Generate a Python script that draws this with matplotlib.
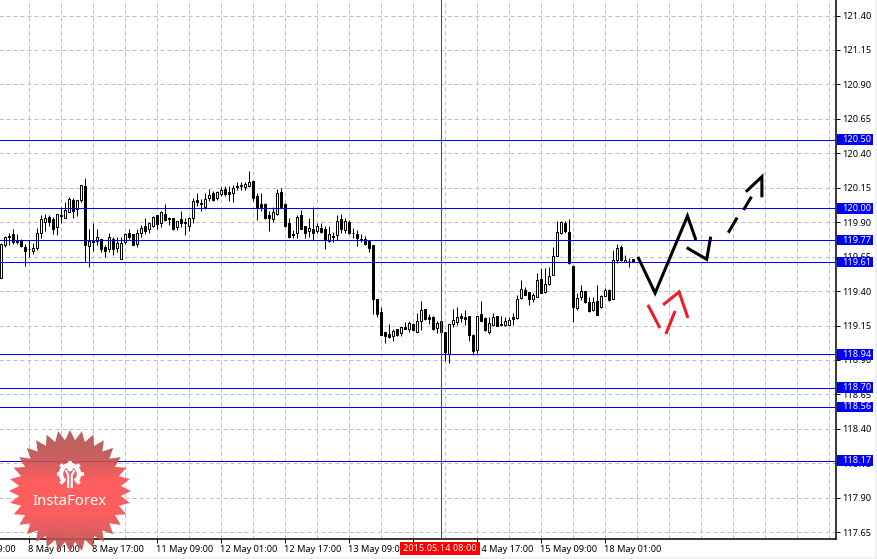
import numpy as np
import matplotlib
matplotlib.use("Agg")
import matplotlib.pyplot as plt
from matplotlib.patches import Rectangle, Polygon, Circle, Arc
from matplotlib.transforms import blended_transform_factory, IdentityTransform, ScaledTranslation

# (open, high, low, close) of each hourly candle
candles = [
(119.497,119.751,119.492,119.739),(119.737,119.800,119.722,119.790),(119.797,119.819,119.734,119.790),(119.812,119.848,119.742,119.759),
(119.761,119.812,119.739,119.756),(119.766,119.778,119.717,119.727),(119.720,119.739,119.582,119.691),(119.708,119.771,119.650,119.703),
(119.693,119.751,119.669,119.710),(119.710,119.855,119.698,119.819),(119.824,119.952,119.788,119.921),(119.904,119.957,119.836,119.928),
(119.935,119.952,119.872,119.901),(119.921,119.940,119.814,119.853),(119.867,119.957,119.807,119.957),(119.952,120.013,119.896,119.947),
(119.933,120.044,119.930,119.988),(119.976,120.085,119.974,120.066),(120.061,120.078,119.930,119.984),(119.993,120.061,119.947,120.061),
(120.061,120.167,120.049,120.167),(120.163,120.218,119.608,119.734),(119.727,119.848,119.577,119.761),(119.766,119.894,119.691,119.759),
(119.766,119.848,119.734,119.790),(119.775,119.775,119.686,119.705),(119.720,119.734,119.650,119.693),(119.708,119.819,119.686,119.790),
(119.775,119.790,119.662,119.708),(119.715,119.790,119.681,119.749),(119.635,119.790,119.633,119.749),(119.756,119.819,119.739,119.814),
(119.819,119.850,119.775,119.792),(119.814,119.814,119.732,119.737),(119.744,119.848,119.722,119.821),(119.824,119.880,119.790,119.855),
(119.870,119.928,119.814,119.834),(119.848,119.904,119.819,119.892),(119.872,119.945,119.863,119.935),(119.952,119.952,119.853,119.887),
(119.896,119.981,119.863,119.974),(119.959,120.030,119.911,119.916),(119.930,119.940,119.877,119.925),(119.928,119.928,119.843,119.853),
(119.863,119.911,119.843,119.906),(119.921,119.981,119.867,119.896),(119.901,119.928,119.807,119.896),(119.872,119.940,119.836,119.930),
(119.928,120.078,119.896,120.054),(120.059,120.114,120.020,120.049),(120.037,120.068,119.984,120.030),(120.008,120.109,119.998,120.066),
(120.078,120.138,120.056,120.095),(120.112,120.129,120.056,120.061),(120.078,120.129,120.061,120.117),(120.107,120.158,120.092,120.134),
(120.141,120.163,120.092,120.105),(120.119,120.165,120.054,120.107),(120.114,120.170,120.049,120.146),(120.163,120.192,120.134,120.158),
(120.170,120.189,120.134,120.165),(120.155,120.189,120.134,120.175),(120.163,120.272,120.158,120.192),(120.199,120.199,120.054,120.078),
(120.090,120.112,119.916,120.013),(120.032,120.112,119.984,120.013),(120.032,120.037,119.923,119.928),(119.952,119.979,119.836,119.930),
(119.923,120.013,119.901,119.971),(119.957,120.141,119.952,120.109),(120.117,120.151,120.008,120.013),(120.032,120.042,119.865,119.872),
(119.894,119.928,119.785,119.790),(119.814,119.843,119.788,119.809),(119.819,119.952,119.788,119.938),(119.952,119.988,119.848,119.853),
(119.870,119.870,119.785,119.821),(119.836,119.928,119.790,119.855),(119.848,120.013,119.771,119.824),(119.838,119.894,119.824,119.870),
(119.855,119.892,119.819,119.831),(119.848,119.872,119.705,119.768),(119.763,119.872,119.756,119.812),(119.797,119.826,119.759,119.792),
(119.807,119.952,119.771,119.909),(119.921,119.957,119.824,119.848),(119.843,119.928,119.824,119.909),(119.901,119.916,119.814,119.821),
(119.824,119.855,119.783,119.819),(119.814,119.843,119.727,119.785),(119.780,119.812,119.759,119.773),(119.775,119.800,119.737,119.742),
(119.763,119.771,119.683,119.710),(119.735,119.735,119.234,119.343),(119.343,119.343,119.210,119.234),(119.249,119.283,119.079,119.084),
(119.103,119.103,119.026,119.074),(119.087,119.159,119.062,119.067),(119.077,119.128,119.041,119.108),(119.123,119.125,119.077,119.082),
(119.099,119.142,119.074,119.137),(119.137,119.178,119.128,119.128),(119.125,119.183,119.103,119.166),(119.162,119.171,119.111,119.118),
(119.106,119.239,119.103,119.183),(119.186,119.329,119.118,119.261),(119.268,119.268,119.193,119.200),(119.210,119.234,119.162,119.200),
(119.210,119.220,119.118,119.123),(119.135,119.186,119.094,119.169),(119.183,119.287,119.106,119.106),(119.103,119.103,118.895,118.958),
(118.944,119.159,118.881,119.159),(119.162,119.268,119.142,119.188),(119.178,119.283,119.154,119.210),(119.217,119.239,119.178,119.208),
(119.210,119.263,119.154,119.195),(119.217,119.217,119.038,119.079),(119.082,119.089,118.934,118.966),(118.973,119.217,118.953,119.217),
(119.234,119.329,119.181,119.186),(119.203,119.215,119.111,119.118),(119.106,119.215,119.089,119.166),(119.154,119.239,119.147,119.210),
(119.217,119.217,119.147,119.149),(119.162,119.220,119.149,119.154),(119.152,119.210,119.147,119.181),(119.157,119.210,119.152,119.188),
(119.210,119.244,119.154,119.200),(119.203,119.370,119.195,119.341),(119.348,119.481,119.346,119.418),(119.406,119.433,119.370,119.375),
(119.391,119.396,119.297,119.341),(119.341,119.384,119.319,119.372),(119.360,119.529,119.355,119.479),(119.488,119.565,119.384,119.389),
(119.394,119.565,119.384,119.452),(119.452,119.573,119.447,119.510),(119.520,119.718,119.517,119.655),(119.657,119.909,119.655,119.827),
(119.820,119.909,119.815,119.902),(119.897,119.909,119.820,119.839),(119.829,119.921,119.597,119.602),(119.582,119.582,119.176,119.285),
(119.280,119.384,119.263,119.350),(119.360,119.442,119.336,119.401),(119.399,119.399,119.316,119.321),(119.319,119.355,119.251,119.256),
(119.263,119.355,119.258,119.319),(119.328,119.442,119.224,119.229),(119.282,119.372,119.275,119.365),(119.367,119.425,119.365,119.408),
(119.408,119.413,119.328,119.336),(119.345,119.699,119.340,119.628),(119.626,119.740,119.607,119.711),(119.720,119.735,119.621,119.626),
(119.614,119.662,119.609,119.628),(119.621,119.638,119.578,119.616),(119.631,119.631,119.611,119.611),
]

levels = [120.50, 120.00, 119.77, 119.61, 118.94, 118.70, 118.56, 118.17]
y_ticks = [121.40, 121.15, 120.90, 120.65, 120.40, 120.15, 119.90, 119.65, 119.40,
           119.15, 118.90, 118.65, 118.40, 118.15, 117.90, 117.65]
x_tick_pos = [-9, 7, 23, 39, 55, 71, 87, 103, 119, 135, 151]
x_tick_labels = ["7 May 09:00", "8 May 01:00", "8 May 17:00", "11 May 09:00", "12 May 01:00",
                 "12 May 17:00", "13 May 09:00", "14 May 01:00", "14 May 17:00", "15 May 09:00", "18 May 01:00"]
x_grid_extra = [-1, 15, 31, 47, 63, 79, 95, 111, 127, 143, 159, 167, 175, 183, 191, 199, 207]
crosshair_pos = 110
crosshair_label = "2015.05.14 08:00"

# hand-drawn forecast strokes (candle index, price)
black_solid = [
    ([159.3, 163.6, 171.7, 173.8], [119.648, 119.386, 119.945, 119.771]),
    ([171.5, 176.5, 177.5], [119.715, 119.631, 119.795]),
    ([181.9, 184.1], [119.824, 119.933]),
    ([185.7, 187.7], [119.989, 120.085]),
    ([186.3, 190.3, 190.3], [120.121, 120.230, 120.081]),
]
red_strokes = [
    ([161.8, 164.8], [119.300, 119.132]),
    ([166.3, 168.6], [119.089, 119.256]),
    ([165.6, 169.6, 171.8], [119.300, 119.394, 119.205]),
]

W, H = 877, 559
PX = 0.72
font = "Noto Sans"
fs = 6.6
plt.rcParams["font.family"] = [font, "DejaVu Sans"]

fig = plt.figure(figsize=(W / 100, H / 100), dpi=100, facecolor="white")
ax = fig.add_axes([-40 / W, (H - 539) / H, 875.5 / W, 539 / H])
ax.set_xlim(-10.17, 208.7)
ax.set_ylim(117.601, 121.5125)
ax.set_axisbelow(True)

for s in ("left", "top"):
    ax.spines[s].set_visible(False)
for s in ("right", "bottom"):
    ax.spines[s].set_linewidth(1.1)

ax.yaxis.tick_right()
ax.set_yticks(y_ticks)
ax.set_yticklabels([f"{v:.2f}" for v in y_ticks], fontsize=fs)
ax.set_xticks(x_tick_pos)
ax.set_xticklabels(x_tick_labels, fontsize=fs, ha="left")
ax.set_xticks(x_grid_extra, minor=True)
ax.tick_params(axis="y", length=3, width=PX, pad=1.5)
ax.tick_params(axis="x", which="major", length=3, width=PX, pad=1.2)
ax.tick_params(axis="x", which="minor", length=0)
shift = ScaledTranslation(-1.0 / 100, 0, fig.dpi_scale_trans)
for lab in ax.get_xticklabels():
    lab.set_transform(lab.get_transform() + shift)
ax.grid(True, which="both", color="#c0c0c0", linewidth=PX, linestyle=(0, (4, 3)))

idx = np.arange(len(candles))
o, h, l, c = map(np.array, zip(*candles))
ax.vlines(idx, l, h, color="black", linewidth=PX, zorder=3)
up = c >= o
bottom = np.minimum(o, c)
height = np.maximum(np.abs(c - o), 0.004)
ax.bar(idx, height, bottom=bottom, width=0.5,
       color=["white" if u else "black" for u in up],
       edgecolor="black", linewidth=PX, zorder=3.2)

for v in levels:
    ax.axhline(v, color="#0000ff", linewidth=PX, zorder=3.5)

ax.axvline(crosshair_pos, color="#ff0000", linewidth=PX, zorder=3.6)

for xs, ys in black_solid:
    ax.plot(xs, ys, color="black", lw=2.2, solid_capstyle="butt", solid_joinstyle="miter", zorder=4)
for xs, ys in red_strokes:
    ax.plot(xs, ys, color="#ee1c25", lw=2.2, solid_capstyle="butt", solid_joinstyle="miter", zorder=4)

# price tags on the right axis
tr = blended_transform_factory(IdentityTransform(), ax.transData)
for v in levels:
    ax.add_patch(Rectangle((836.5, v - 5.3 / 137.8), 36.5, 10.6 / 137.8, transform=tr,
                           facecolor="#0000ff", edgecolor="none", clip_on=False, zorder=5))
    ax.text(842, v, f"{v:.2f}", transform=tr, color="white", fontsize=fs, va="center",
            ha="left", clip_on=False, zorder=6)

# overlay in picture pixels: time tag, logo, window edge
ov = fig.add_axes([0, 0, 1, 1], facecolor="none")
ov.set_xlim(0, W)
ov.set_ylim(H, 0)
ov.axis("off")
ov.add_patch(Rectangle((400, 542), 80, 12.5, facecolor="#ff0000", edgecolor="none", zorder=2))
ov.text(440, 548.2, crosshair_label, color="white", fontsize=fs, ha="center", va="center", zorder=3)
ov.add_patch(Rectangle((0, 557), W, 2, facecolor="#f0f0f0", edgecolor="none"))
ov.add_patch(Rectangle((875, 0), 2, H, facecolor="#f0f0f0", edgecolor="none"))

cx, cy, r1, r2, n = 70, 491, 61, 51, 32
ang = np.linspace(0, 2 * np.pi, 2 * n, endpoint=False) - np.pi / 2
rad = np.where(np.arange(2 * n) % 2 == 0, r1, r2)
pts = np.column_stack([cx + rad * np.cos(ang), cy + rad * np.sin(ang)])
star = Polygon(pts, closed=True, facecolor="none", edgecolor="none", transform=ov.transData)
ov.add_patch(star)
t = np.linspace(0, 1, 140)
stops_pos = [0, 0.22, 0.42, 0.68, 0.88, 1]
stops_col = np.array([[178, 78, 78], [196, 78, 76], [255, 76, 76], [255, 76, 76], [206, 78, 76], [180, 78, 76]]) / 255
grad = np.stack([np.interp(t, stops_pos, stops_col[:, k]) for k in range(3)], axis=1)[:, None, :]
im = ov.imshow(grad, extent=(cx - r1, cx + r1, cy + r1, cy - r1), aspect="auto", alpha=0.9, zorder=1, interpolation="bilinear")
im.set_clip_path(star)

ov.text(cx - 0.5, 501.5, "InstaForex", color="white", fontsize=10.7, ha="center", va="center",
        family="Noto Sans", zorder=4)
gx, gy = 70, 474
ov.add_patch(Arc((gx, gy), 18, 18, theta1=125, theta2=55, color="white", lw=3.2, zorder=4))
for a in np.deg2rad(np.arange(-225, 46, 45)):
    ov.plot([gx + 10 * np.cos(a), gx + 13.5 * np.cos(a)], [gy + 10 * np.sin(a), gy + 13.5 * np.sin(a)],
            color="white", lw=2.6, solid_capstyle="butt", zorder=4)
ov.add_patch(Circle((gx, gy - 5.5), 2.2, color="white", zorder=4))
ov.plot([gx - 4, gx - 1.8, gx - 1.8], [gy - 3, gy + 1, gy + 13], color="white", lw=1.5, zorder=4)
ov.plot([gx + 4, gx + 1.8, gx + 1.8], [gy - 3, gy + 1, gy + 13], color="white", lw=1.5, zorder=4)
ov.set_xlim(0, W)
ov.set_ylim(H, 0)

fig.savefig("out.png", dpi=100, facecolor="white")
